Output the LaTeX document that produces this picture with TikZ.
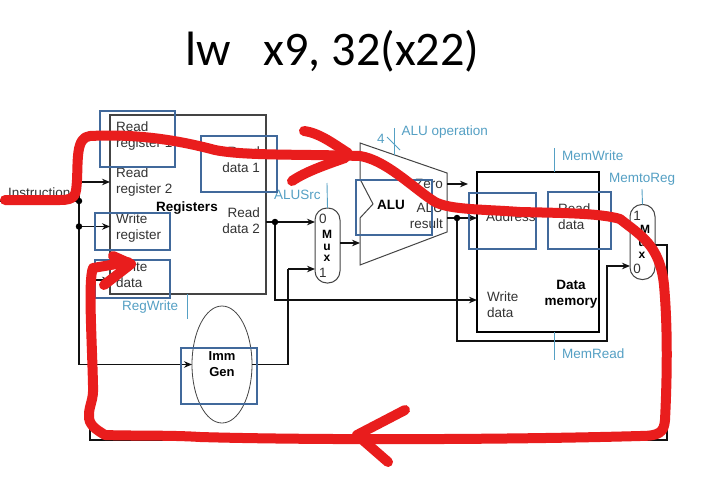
\documentclass[tikz,border=0pt]{standalone}
\usepackage{fontspec}
\setmainfont{Liberation Sans}
\newfontfamily\titlefont{Carlito}
\usetikzlibrary{shapes.geometric,arrows.meta}
\definecolor{wireblack}{HTML}{111111}
\definecolor{unitgray}{HTML}{444444}
\definecolor{hiblue}{HTML}{41699B}
\definecolor{ctrlblue}{HTML}{55A0C4}
\definecolor{inkred}{HTML}{E91D1D}
\definecolor{labelgray}{HTML}{333333}
\tikzset{
  x=1pt,y=-1pt,
  unitbox/.style={draw=#1,line width=1.1pt,inner sep=0,outer sep=0,anchor=north west},
  unitbox/.default=unitgray,
  hibox/.style={draw=hiblue,line width=2.2pt,inner sep=0,outer sep=0,anchor=north west},
  wire/.style={draw=wireblack,line width=1.5pt},
  wirearrow/.style={wire,-{Stealth[length=8pt,width=6.5pt]}},
  ctrl/.style={draw=ctrlblue,line width=0.9pt},
  lab/.style={font=\fontsize{13.5}{16}\selectfont,text=labelgray,inner sep=0,align=left,anchor=west},
  labr/.style={font=\fontsize{13.5}{16}\selectfont,text=labelgray,inner sep=0,align=right,anchor=east},
  blab/.style={font=\fontsize{13.5}{16}\selectfont\bfseries,text=black,inner sep=0,align=center},
  mlab/.style={font=\fontsize{12}{14}\selectfont\bfseries,text=black,inner sep=0,align=center},
  clab/.style={font=\fontsize{13.5}{16}\selectfont,text=ctrlblue,inner sep=0,anchor=west},
  muxbox/.style={draw=unitgray,line width=1pt,rounded corners=12pt,inner sep=0,outer sep=0,anchor=north west},
  dot/.style={circle,fill=black,inner sep=0,minimum size=6.5pt},
  ink/.style={draw=inkred,line width=10pt,line cap=round,line join=round},
}
\begin{document}
\begin{tikzpicture}
\useasboundingbox (0,0) rectangle (710,477);
\fill[white] (0,0) rectangle (710,477);
\node[font=\titlefont\fontsize{48.2}{50}\selectfont,inner sep=0,anchor=base west,text=black] (title) at (185,65.5) {lw\ \ \ x9, 32(x22)};

% units
\node[unitbox,minimum width=156pt,minimum height=179pt] (regs) at (110,115) {};
\node[unitbox=black,minimum width=122pt,minimum height=160pt] (dmem) at (477,172) {};
\node[muxbox,minimum width=25pt,minimum height=75pt] (mux1) at (315,208) {};
\node[muxbox,minimum width=25pt,minimum height=75pt] (mux2) at (630,204.5) {};
\draw[draw=unitgray,line width=1pt] (360,143) -- (447,173) -- (447,232) -- (360,265) -- (360,218) -- (373,204) -- (360,179) -- cycle;

% named ports
\coordinate (rr2) at (110,182);
\coordinate (wr) at (110,226.5);
\coordinate (wd) at (110,280);
\coordinate (rd2) at (266,222);
\coordinate (j1) at (79,201);
\coordinate (j2) at (79,226.5);
\coordinate (j3) at (275,222);
\coordinate (j4) at (457,218);
\coordinate (aluin) at (360,243);
\coordinate (zeroout) at (447,184);
\coordinate (resout) at (447,218);
\coordinate (dmaddr) at (477,218);
\coordinate (dmwd) at (477,300);
\coordinate (m1a) at (315,222);
\coordinate (m1b) at (315,269);
\coordinate (m1o) at (340,243);
\coordinate (m2a) at (630,266);
\coordinate (m2o) at (655,245);
\coordinate (zerotip) at (468,184);

% imm gen
\node[draw=unitgray,line width=0.8pt,ellipse,minimum width=60pt,minimum height=117pt,inner sep=0,outer sep=0,blab,font=\fontsize{13}{16}\selectfont\bfseries] (imm) at (222,364.5) {Imm\\Gen};

% wires
\draw[wire] (0,201) -- (j1);
\draw[wirearrow] (j1) |- (rr2);
\draw[wirearrow] (j2) -- (wr);
\draw[wire] (j1) -- (j2);
\draw[wirearrow] (j2) |- (imm.west);
\draw[wirearrow] (rd2) -- (m1a);
\draw[wirearrow] (j3) |- (dmwd);
\draw[wirearrow] (m1o) -- (aluin);
\draw[wirearrow] (zeroout) -- (zerotip);
\draw[wirearrow] (resout) -- (dmaddr);
\draw[wire] (imm.east) -- (288,364.5) -- (288,269);
\draw[wirearrow] (288,269) -- (m1b);
\draw[wirearrow] (j4) -- (457,341) -- (607,341) |- (m2a);
\draw[wirearrow] (m2o) -- (667,245) -- (667,440) -- (90,440) |- (wd);
\node[dot] at (j1) {};
\node[dot] at (j2) {};
\node[dot] at (j3) {};
\node[dot] at (j4) {};

% control lines
\draw[ctrl] (394,128) -- (394,155);
\draw[ctrl] (387,137) -- (400,150);
\draw[ctrl] (327,183) -- (mux1.north);
\draw[ctrl] (554,148) -- (554,172);
\draw[ctrl] (554,332) -- (554,360);
\draw[ctrl] (642,189) -- (mux2.north);
\draw[ctrl] (187,294) -- (187,319);

% text
\node[labr,anchor=west] (tinst) at (8,192.5) {Instruction};
\node[lab] (t1) at (116,136) {Read\\register 1};
\node[lab] (t2) at (116,182) {Read\\register 2};
\node[lab] (t3) at (116,228) {Write\\register};
\node[lab] (t4) at (116,275) {Write\\data};
\node[labr] (t5) at (260,159.5) {Read\\data 1};
\node[labr] (t6) at (260,221) {Read\\data 2};
\node[blab] (t7) at (187,208) {Registers};
\node[blab] (t8) at (391,204.5) {ALU};
\node[labr] (t9) at (443,184) {Zero};
\node[labr] (t10) at (443,216) {ALU\\result};
\node[lab] (t11) at (486,217) {Address};
\node[lab] (t12) at (558,217) {Read\\data};
\node[lab] (t12b) at (487,305) {Write\\data};
\node[blab] (t13) at (571,294.5) {Data\\memory};
\node[lab,anchor=center] (m10) at (323,219) {0};
\node[mlab] (m11) at (327,234) {M};
\node[mlab] (m12) at (327,247) {u};
\node[mlab] (m13) at (327,258.5) {x};
\node[lab,anchor=center] (m14) at (323,273) {1};
\node[lab,anchor=center] (m20) at (637,216) {1};
\node[mlab] (m21) at (645,229) {M};
\node[mlab] (m22) at (642,243) {u};
\node[mlab] (m23) at (642,255) {x};
\node[lab,anchor=center] (m24) at (637,269) {0};
\node[clab] (c1) at (401.5,132.5) {ALU operation};
\node[clab] (c2) at (377,139) {4};
\node[clab] (c3) at (274,195) {ALUSrc};
\node[clab] (c4) at (562,156) {MemWrite};
\node[clab] (c5) at (609,179) {MemtoReg};
\node[clab] (c6) at (562,354) {MemRead};
\node[clab] (c7) at (122,307) {RegWrite};

% highlight boxes
\node[hibox,minimum width=75pt,minimum height=56pt] (h1) at (100,111) {};
\node[hibox,minimum width=76pt,minimum height=56pt] (h2) at (201,136) {};
\node[hibox,minimum width=75pt,minimum height=37pt] (h3) at (95,213) {};
\node[hibox,minimum width=75pt,minimum height=38pt] (h4) at (95,260) {};
\node[hibox,minimum width=76pt,minimum height=55pt] (h5) at (356,180) {};
\node[hibox,minimum width=67pt,minimum height=56pt] (h6) at (469,193) {};
\node[hibox,minimum width=63pt,minimum height=57pt] (h7) at (548,192) {};
\node[hibox,minimum width=76pt,minimum height=56pt] (h8) at (181,348) {};

% red hand-drawn strokes
\draw[ink] (5,200) -- (60,200) .. controls (76,200) and (76,195) .. (77,180)
  .. controls (78,160) and (76,137) .. (90,136)
  .. controls (130,134) and (170,138) .. (215,150)
  .. controls (245,156) and (300,154) .. (360,156)
  .. controls (385,160) and (410,185) .. (432,200)
  .. controls (445,210) and (480,209) .. (520,212)
  .. controls (560,213) and (600,213) .. (620,219)
  .. controls (640,235) and (660,245) .. (664,285)
  .. controls (668,330) and (667,380) .. (665,420)
  .. controls (664,432) and (660,436) .. (640,436)
  .. controls (500,440) and (300,440) .. (200,437)
  .. controls (170,435) and (130,436) .. (105,435)
  .. controls (97,430) and (88,425) .. (89,415)
  .. controls (89,405) and (94,400) .. (93,385)
  .. controls (92,340) and (88,280) .. (93,268)
  -- (128,262);
\draw[ink] (304,131) .. controls (320,133) and (335,145) .. (348,153) -- (345,158) .. controls (325,165) and (305,172) .. (292,181);
\draw[ink] (113,256) -- (131,264) -- (104,285);
\draw[ink] (405,410) -- (357,435) -- (388,462);
\end{tikzpicture}
\end{document}
